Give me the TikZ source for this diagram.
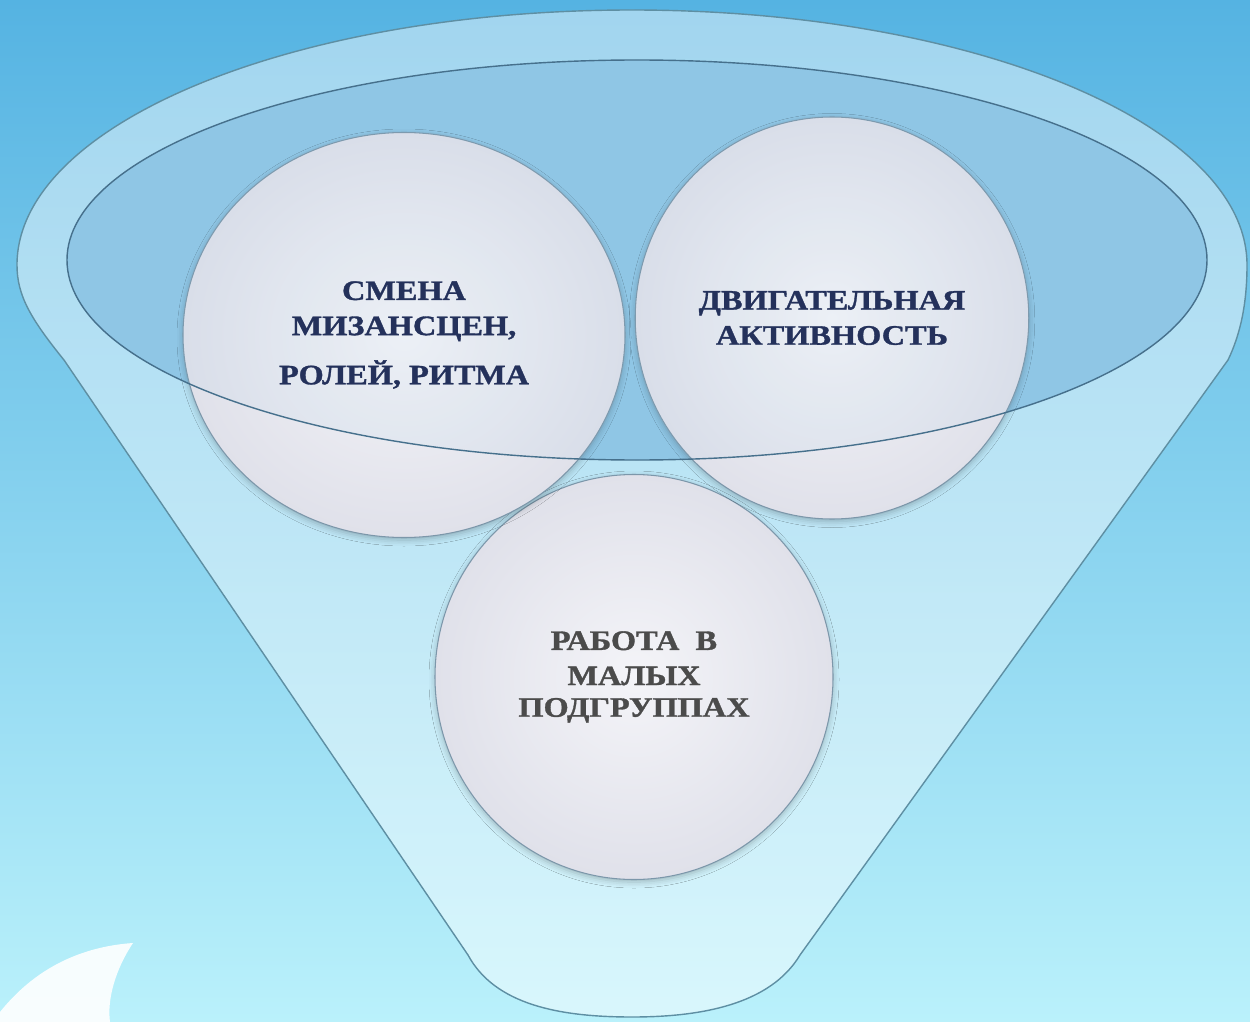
\documentclass[tikz,border=0pt]{standalone}
\usepackage{fontspec}
\usetikzlibrary{shapes.geometric,shadows.blur}
\newfontfamily\funnelfont[FakeStretch=1.15,BoldFeatures={FakeBold=1.2}]{Liberation Serif}
\usepackage{xcolor}
\definecolor{skytop}{HTML}{55B3E2}
\definecolor{skymid}{HTML}{8ED3F1}
\definecolor{skybottom}{HTML}{BAF1FB}
\definecolor{rimline}{HTML}{5E8FA3}
\definecolor{bowl}{HTML}{8FC6E5}
\definecolor{bowlline}{HTML}{46708C}
\definecolor{ballcore}{HTML}{F4F4F8}
\definecolor{ballrim}{HTML}{E0E1EA}
\definecolor{ballline}{HTML}{7C97AA}
\definecolor{navyink}{HTML}{1B2550}
\definecolor{greyink}{HTML}{4B4B4B}
\newcommand{\bowlx}{637}
\newcommand{\bowly}{260}

\begin{document}
\begin{tikzpicture}[x=0.2mm,y=-0.2mm,every path/.style={line width=0.8pt},
    ball/.style={ellipse,draw=ballline,line width=0.6pt,inner color=ballcore,outer color=ballrim,
        align=center,font=\funnelfont\bfseries\fontsize{16}{20}\selectfont,
        blur shadow={shadow xshift=0pt,shadow yshift=-0.5mm,shadow blur radius=1.2mm,shadow opacity=25}}]

        \useasboundingbox (0,0) rectangle (1250,1022);
        \shade[top color=skytop,middle color=skymid,bottom color=skybottom] (0,0) rectangle (1250,1022);

        % leaf in the corner
        \fill[white,opacity=0.9] (0,1012) .. controls (40,962) and (90,946) .. (133,943)
            .. controls (115,970) and (107,1000) .. (110,1022) -- (0,1022) -- cycle;

        % funnel
        \filldraw[draw=rimline,fill=white,fill opacity=0.45] (17,265)
            arc[start angle=180,end angle=360,x radius=615,y radius=255]
            .. controls (1247,305) and (1240,335) .. (1228,360) -- (800,955)
            .. controls (770,1005) and (700,1017) .. (632,1017)
            .. controls (560,1017) and (495,1005) .. (468,955) -- (64,360)
            .. controls (30,318) and (17,295) .. (17,265);
        \fill[bowl] (\bowlx,\bowly) ellipse[x radius=570,y radius=200];

        \node[ball,text=greyink,minimum width=79.6mm,minimum height=81mm] (work) at (634,677)
            {РАБОТА\ \ В\\МАЛЫХ\\[-2pt]ПОДГРУППАХ};
        \node[ball,text=navyink,minimum width=88.4mm,minimum height=81mm] (scenes) at (404,335)
            {СМЕНА\\МИЗАНСЦЕН,\\[8pt]РОЛЕЙ, РИТМА};
        \node[ball,text=navyink,minimum width=78.4mm,minimum height=80.4mm] (motion) at (832,318)
            {ДВИГАТЕЛЬНАЯ\\АКТИВНОСТЬ};

        % rim of the bowl over the balls
        \draw[bowlline,fill=bowl,fill opacity=0.08] (\bowlx,\bowly) ellipse[x radius=570,y radius=200];

    \end{tikzpicture}
\end{document}
